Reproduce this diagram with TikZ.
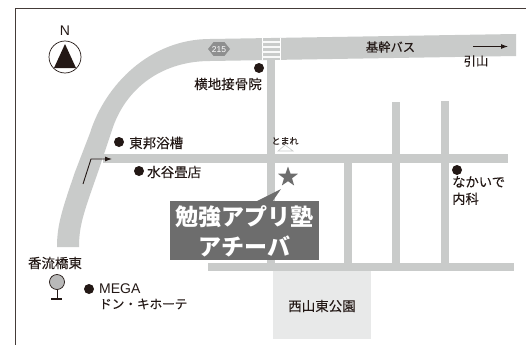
\documentclass[tikz,border=0pt]{standalone}
\usepackage{fontspec}
\setmainfont{Noto Sans CJK JP}
\newfontfamily\plainf[FakeBold=0.08]{Noto Sans CJK JP}
\newfontfamily\latinf{Liberation Sans}
\definecolor{roadc}{HTML}{C9CBCA}
\definecolor{inkc}{HTML}{231815}
\definecolor{boxc}{HTML}{6D6D6D}
\definecolor{parkc}{HTML}{E8E9E9}
\definecolor{badgec}{HTML}{8E8F8F}
\usetikzlibrary{arrows.meta,shapes.geometric}
\tikzset{
  road/.style={fill=roadc,draw=none},
  spot/.style={circle,fill=inkc,draw=none,minimum size=10pt,inner sep=0pt},
  lbl/.style={text=inkc,inner sep=0pt,font=\plainf\fontsize{13.5pt}{16pt}\selectfont,align=left},
  pointer/.style={draw=inkc,line width=0.9pt,-{Latex[length=7pt,width=5pt]}}
}
\begin{document}
\begin{tikzpicture}[x=1pt,y=-1pt]
\useasboundingbox (0,0) rectangle (526,345);
\fill[white] (0,0) rectangle (526,345);
% frame
\draw[inkc!85,line width=1pt] (526,9) -- (15,9) -- (15,345);
\draw[gray,line width=3pt] (-19,240) arc[start angle=60,end angle=-60,radius=24];
% main road
\fill[road] (57,247) .. controls (57,225) and (62,210) .. (75,172)
  -- (90,133) .. controls (105,85) and (150,39) .. (210,39)
  -- (516,34) -- (516,56) -- (210,61)
  .. controls (165,61) and (128,85) .. (113,127)
  -- (98,172) .. controls (84,212) and (79,225) .. (79,247) -- cycle;
% crossing
\draw[white,line width=0.9pt] (262,38) -- (262,60);
\draw[white,line width=0.9pt] (280,38) -- (280,60);
\foreach \yy in {42,47,52,57}{\draw[white!88!roadc,line width=1.2pt] (262,\yy) -- (280,\yy);}
% streets
\fill[road] (267,60) rectangle (275,271);
\fill[road] (103,154) rectangle (508,163);
\fill[road] (208,263) rectangle (514,271);
\fill[road] (344,163) rectangle (352,263);
\fill[road] (392,102) rectangle (400,263);
\fill[road] (441,101) rectangle (449,263);
% park
\fill[parkc] (273,271) rectangle (371,339);
\node[lbl] (park) at (322,306) {西山東公園};
% north
\node[lbl,font=\latinf\fontsize{14pt}{15pt}\selectfont] (north) at (65,31) {N};
\node[circle,draw=inkc,line width=0.7pt,minimum size=32pt,inner sep=0pt,fill=white] (compass) at (65,57) {};
\fill[inkc] (65,44) -- (76,68) -- (54,68) -- cycle;
% route badge
\node[regular polygon,regular polygon sides=6,fill=badgec,inner sep=0pt,minimum size=22pt,yscale=0.72] (badge) at (219,49) {};
\node[text=white,inner sep=0pt,font=\latinf\fontsize{8.5pt}{9pt}\selectfont] (badgetext) at (219,49.5) {215};
% top labels
\node[lbl,font=\plainf\fontsize{12.3pt}{14pt}\selectfont] (bypass) at (390.5,47) {基幹バス};
\node[lbl,font=\plainf\fontsize{12.3pt}{14pt}\selectfont] (hikiyama) at (476,61) {引山};
\coordinate (busA) at (473,46.5);
\coordinate (busB) at (508,46.5);
\draw[pointer] (busA) -- (busB);
% spots
\node[spot] (s1) at (259,68) {};
\node[lbl] (yokochi) at (228,84) {横地接骨院};
\node[spot] (s2) at (119,142) {};
\node[lbl,anchor=west] (toho) at (129,143) {東邦浴槽};
\node[spot] (s3) at (139,171) {};
\node[lbl,anchor=west] (mizutani) at (147,172) {水谷畳店};
\node[spot] (s4) at (457,170) {};
\node[lbl,anchor=north west,font=\plainf\fontsize{13.3pt}{17pt}\selectfont] (nakai) at (452,176) {なかいで\\内科};
\node[spot] (s5) at (89,289) {};
\node[lbl,anchor=west,font=\latinf\fontsize{14pt}{15pt}\selectfont] (mega) at (99,289) {MEGA};
\node[lbl,anchor=west,font=\plainf\fontsize{12.6pt}{15pt}\selectfont] (donki) at (99,304) {ドン・キホーテ};
% stop sign
\node[inner sep=0pt,text=inkc,font=\plainf\fontsize{9pt}{9pt}\selectfont] (tomare) at (285,141) {とまれ};
\draw[roadc,line width=0.6pt,fill=white] (285,145) -- (293,151) -- (278,151) -- cycle;
% turn arrow
\coordinate (t1) at (83,184);
\coordinate (t2) at (91,159);
\coordinate (t3) at (112,159);
\draw[pointer] (t1) -- (t2) -- (t3);
% station
\node[lbl] (koryu) at (55,263) {香流橋東};
\node[circle,draw=inkc,line width=0.7pt,fill=gray!55,minimum size=15pt,inner sep=0pt] (stn) at (57,282) {};
\coordinate (base) at (57,299);
\draw[inkc,line width=1pt] (stn) -- (base);
\draw[inkc,line width=1.2pt] (51,299) -- (62,299);
% school
\fill[boxc] (255,202) -- (281,189) -- (272,202) -- cycle;
\node[star,star points=5,star point ratio=2.5,fill=boxc,minimum size=21pt,inner sep=0pt] (school) at (288,177) {};
\fill[boxc] (170,201) rectangle (319,260);
\node[inner sep=0pt,text=white,align=center,font=\bfseries\fontsize{23pt}{30pt}\selectfont] (name) at (244.5,231) {勉強アプリ塾\\アチーバ};
\end{tikzpicture}
\end{document}
